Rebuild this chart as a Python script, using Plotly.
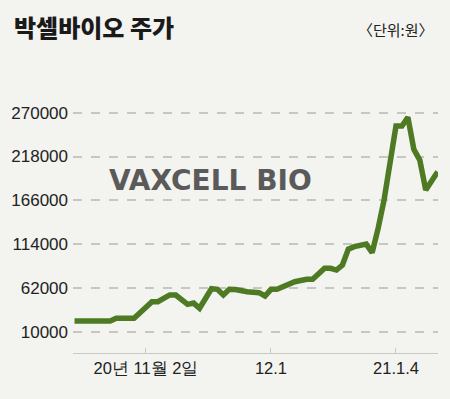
import plotly.graph_objects as go

# trading-day index (0 = 2020-10-15) and closing price (won)
day_index = [0, 6, 7, 10, 13, 14, 16, 17, 19, 20, 21, 23, 24, 25, 26, 27, 29, 31,
             32, 33, 34, 36, 37, 39, 40, 42, 43, 44, 45, 46, 47, 49, 50, 51, 52,
             54, 55, 56, 57, 58, 59, 61]
price = [22700, 22700, 25900, 25900, 45600, 45600, 53600, 53600, 42500, 44000, 37800,
         61000, 60300, 53600, 60300, 60000, 57500, 56300, 52400, 60300, 60300,
         67400, 69300, 72200, 72200, 85300, 85300, 83200, 89200, 108000, 111000,
         114000, 103800, 132700, 166300, 254200, 254200, 264500, 226500, 213800,
         178200, 200000]

y_ticks = [10000, 62000, 114000, 166000, 218000, 270000]
x_tick_index = [12, 33, 54]
x_tick_labels = ["20년 11월 2일", "12.1", "21.1.4"]

BG = "#f3f3ef"
fig = go.Figure()
fig.add_trace(go.Scatter(
    x=day_index, y=price, mode="lines",
    line=dict(color="#4e7a24", width=5.5), hoverinfo="skip"))

fig.update_layout(
    width=450, height=399,
    paper_bgcolor=BG, plot_bgcolor=BG,
    margin=dict(l=73, r=12, t=90, b=46),
    showlegend=False,
    font=dict(family="Liberation Sans, Arial, sans-serif", size=17, color="#222"),
)
fig.update_yaxes(
    range=[-15290, 296950], tickvals=y_ticks,
    ticktext=[str(v) for v in y_ticks],
    showgrid=True, gridcolor="#c6c6c2", griddash="dash", gridwidth=2,
    zeroline=False, showline=False, ticks="", ticklabelstandoff=4,
    tickfont=dict(size=17, color="#222"))
fig.update_xaxes(
    range=[-0.26, 61.06], tickvals=x_tick_index, ticktext=x_tick_labels,
    showgrid=False, zeroline=False, showline=True, linecolor="#c8c8c4", linewidth=1,
    ticks="inside", ticklen=5, tickcolor="#c8c8c4", tickwidth=1,
    tickfont=dict(size=16.5, color="#222"))

fig.add_annotation(text="박셀바이오 주가", xref="paper", yref="paper",
                   x=-61/365, y=1.0, xanchor="left", yanchor="bottom", yshift=44,
                   showarrow=False,
                   font=dict(family="Noto Sans CJK KR", size=24, weight=900, color="#1a1a1a"))
fig.add_annotation(text="〈단위:원〉", xref="paper", yref="paper",
                   x=(436 - 73) / 365, y=1.0, xanchor="right", yanchor="bottom", yshift=48,
                   showarrow=False,
                   font=dict(family="Noto Sans CJK KR", size=15, color="#222"))
fig.add_annotation(text="<b>VAXCELL BIO</b>", xref="paper", yref="paper",
                   x=(107 - 73) / 365, y=(353 - 180) / 263, xanchor="left", yanchor="middle",
                   showarrow=False,
                   font=dict(family="DejaVu Sans", size=28, color="#5a5a5a"))

fig.write_html("out.html", config={"displayModeBar": False},
               post_script="document.body.style.margin='0';")
